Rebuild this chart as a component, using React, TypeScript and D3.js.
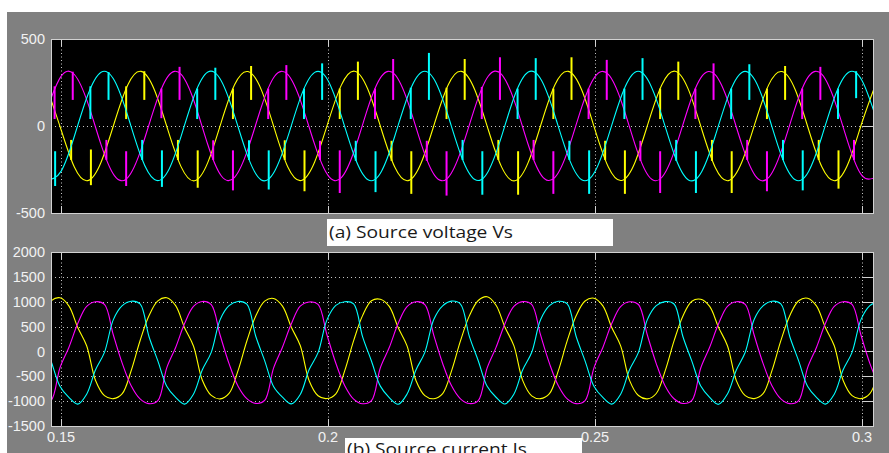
import * as d3 from "d3";

type Spike = [number, number, number];

// axis ticks
const timeTicks = [0.15, 0.2, 0.25, 0.3];
const timeTickLabels = ["0.15", "0.2", "0.25", "0.3"];
const voltageTicks = [-500, 0, 500];
const currentTicks = [-1500, -1000, -500, 0, 500, 1000, 1500, 2000];

// source voltage Vs, one sample every 2.5 ms from t = 0.1475 s
const voltageT0 = 0.1475;
const voltageDt = 0.0025;
const vsYellow = [
  208, -20, -236, -314, -208, 20, 236, 314,
  207, -21, -235, -315, -209, 21, 237, 313,
  209, -19, -237, -313, -207, 19, 235, 315,
  208, -20, -236, -314, -208, 20, 236, 314,
  207, -20, -235, -315, -209, 20, 237, 314,
  208, -21, -236, -313, -208, 21, 236, 315,
  209, -20, -237, -314, -207, 19, 235, 313,
  208, -20, -236, -314, -208, 20, 236,
];
const vsMagenta = [
  107, 285, 296, 134, -107, -285, -296, -134,
  106, 284, 297, 135, -108, -286, -295, -133,
  108, 286, 295, 133, -106, -284, -297, -135,
  107, 285, 296, 134, -107, -285, -296, -134,
  106, 286, 297, 134, -108, -285, -295, -134,
  107, 284, 296, 135, -107, -286, -296, -133,
  108, 285, 295, 134, -106, -285, -297, -134,
  107, 285, 296, 134, -107, -285, -296,
];
const vsCyan = [
  -309, -261, -59, 177, 309, 261, 59, -177,
  -308, -262, -58, 178, 310, 260, 60, -176,
  -310, -260, -60, 176, 308, 262, 58, -178,
  -309, -261, -59, 177, 309, 261, 59, -177,
  -308, -261, -60, 178, 310, 261, 59, -176,
  -309, -262, -58, 177, 309, 260, 60, -177,
  -310, -261, -59, 176, 308, 261, 59, -178,
  -309, -261, -59, 177, 309, 261, 59,
];

// commutation notches on the voltage: [time, low, high]
const notchYellow: Spike[] = [
  [0.1519, -195, -80], [0.1556, -340, -135], [0.1622, 40, 228],
  [0.1656, 150, 315], [0.1719, -195, -80], [0.1756, -355, -140], [0.1822, 40, 215],
  [0.1856, 150, 345], [0.1919, -195, -82], [0.1956, -375, -140], [0.2022, 40, 215],
  [0.2056, 150, 370], [0.2119, -200, -85], [0.2156, -390, -145], [0.2222, 40, 220],
  [0.2256, 150, 385], [0.2319, -195, -80], [0.2356, -395, -145], [0.2422, 40, 215],
  [0.2456, 150, 395], [0.2519, -195, -85], [0.2556, -390, -140], [0.2622, 40, 215],
  [0.2656, 150, 370], [0.2719, -200, -80], [0.2756, -385, -145], [0.2822, 40, 215],
  [0.2856, 150, 345], [0.2919, -195, -80], [0.2956, -360, -140],
];
const notchMagenta: Spike[] = [
  [0.1488, 40, 228],
  [0.1522, 150, 312], [0.1585, -195, -80], [0.1622, -345, -145], [0.1688, 45, 215],
  [0.1722, 150, 340], [0.1785, -195, -82], [0.1822, -370, -140], [0.1888, 40, 215],
  [0.1922, 150, 350], [0.1985, -195, -85], [0.2022, -385, -140], [0.2088, 40, 215],
  [0.2122, 150, 385], [0.2185, -200, -85], [0.2222, -400, -145], [0.2288, 40, 225],
  [0.2322, 150, 395], [0.2385, -195, -80], [0.2422, -390, -145], [0.2488, 40, 215],
  [0.2522, 150, 380], [0.2585, -200, -85], [0.2622, -385, -145], [0.2688, 40, 215],
  [0.2722, 150, 360], [0.2785, -195, -80], [0.2822, -375, -145], [0.2888, 40, 215],
  [0.2922, 150, 340], [0.2985, -195, -80],
];
const notchCyan: Spike[] = [
  [0.1489, -345, -145], [0.1555, 40, 228],
  [0.1589, 150, 310], [0.1652, -195, -80], [0.1689, -350, -140], [0.1755, 40, 215],
  [0.1789, 150, 335], [0.1852, -195, -82], [0.1889, -365, -140], [0.1955, 40, 215],
  [0.1989, 150, 360], [0.2052, -200, -85], [0.2089, -380, -145], [0.2155, 40, 220],
  [0.2189, 150, 420], [0.2252, -195, -80], [0.2289, -395, -145], [0.2355, 40, 215],
  [0.2389, 150, 390], [0.2452, -195, -85], [0.2489, -390, -140], [0.2555, 40, 215],
  [0.2589, 150, 390], [0.2652, -200, -80], [0.2689, -385, -145], [0.2755, 40, 215],
  [0.2789, 150, 355], [0.2852, -195, -80], [0.2889, -370, -140], [0.2955, 40, 215],
  [0.2989, 160, 315],
];

// source current Is, one sample every 1/600 s from t = 0.14647 s
const currentT0 = 0.14647;
const currentDt = 1 / 600;
const isYellow = [
  717, 1018,
  1080, 917, 482, 114, -586, -890, -950, -850, -388, 215, 717, 1018,
  1080, 920, 478, 110, -580, -885, -955, -845, -392, 210, 712, 1012,
  1065, 910, 485, 118, -590, -892, -948, -852, -385, 218, 720, 1020,
  1050, 905, 480, 112, -584, -888, -952, -848, -390, 212, 715, 1025,
  1100, 930, 486, 116, -588, -893, -950, -850, -387, 216, 718, 1015,
  1070, 915, 480, 112, -582, -887, -954, -846, -391, 211, 714, 1010,
  1050, 905, 484, 115, -587, -890, -949, -851, -386, 217, 719, 1020,
  1070, 915, 482, 114, -586, -890, -950, -850, -388,
];
const isMagenta = [
  -1050, -990, -330, 80, 560, 905,
  1000, 945, 330, -240, -690, -955, -1050, -990, -330, 80, 560, 905,
  1005, 940, 325, -245, -695, -950, -1045, -985, -335, 85, 555, 910,
  995, 948, 335, -238, -688, -958, -1052, -992, -328, 78, 562, 900,
  1000, 942, 328, -242, -692, -953, -1048, -988, -332, 82, 558, 907,
  1002, 946, 332, -240, -690, -956, -1050, -990, -330, 80, 560, 903,
  998, 944, 330, -244, -694, -952, -1046, -986, -334, 84, 556, 908,
  1000, 945, 330, -240, -690, -955, -1050, -990, -330, 80, 560, 905,
  1000, 945, 330, -240, -690,
];
const isCyan = [
  300, -190, -700, -925, -1060, -860, -370, -20, 640, 920,
  1010, 955, 300, -190, -700, -925, -1060, -860, -370, -20, 640, 920,
  1005, 950, 305, -185, -705, -920, -1055, -865, -365, -25, 635, 925,
  1000, 958, 298, -192, -698, -928, -1062, -858, -372, -18, 642, 918,
  1012, 952, 302, -188, -702, -922, -1058, -862, -368, -22, 638, 922,
  1008, 956, 300, -190, -700, -926, -1060, -860, -370, -20, 640, 920,
  1002, 954, 296, -194, -696, -924, -1064, -856, -374, -16, 644, 916,
  1010, 955, 300, -190, -700, -925, -1060, -860, -370, -20, 640, 920,
  1010,
];

const W = 889;
const H = 453;
const L = 51;
const R = 874;
const FRAME = "#d2d2d2";
const GRID = "#c4c4c4";
const LABEL = "#f2f2f2";
const COLORS = { yellow: "#ffff00", magenta: "#ff00ff", cyan: "#00ffff" };

const x = d3.scaleLinear().domain([0.148127, 0.302247]).range([L, R]);

function samples(t0: number, dt: number, vals: number[]): [number, number][] {
  return vals.map((v, i) => [t0 + i * dt, v]);
}

function Panel({ id, y, ticks, top, bottom, showTime, children }: any) {
  const crisp = (v: number) => Math.round(v) + 0.5;
  return (
    <g>
      <defs>
        <clipPath id={id}>
          <rect x={L} y={top} width={R - L} height={bottom - top} />
        </clipPath>
      </defs>
      <rect x={L} y={top} width={R - L} height={bottom - top} fill="#000" />
      {ticks
        .filter((v: number) => y(v) > top + 1 && y(v) < bottom - 1)
        .map((v: number) => (
          <g key={"h" + v}>
            <line x1={L} x2={R} y1={crisp(y(v))} y2={crisp(y(v))} stroke={GRID} strokeDasharray="1 3" />
            <line x1={R - 12} x2={R} y1={crisp(y(v))} y2={crisp(y(v))} stroke={FRAME} />
          </g>
        ))}
      {timeTicks.map((t) => (
        <g key={"v" + t}>
          <line x1={crisp(x(t))} x2={crisp(x(t))} y1={top} y2={bottom} stroke={GRID} strokeDasharray="1 2.5" />
          <line x1={crisp(x(t))} x2={crisp(x(t))} y1={top} y2={top + 7} stroke={FRAME} />
          <line x1={crisp(x(t))} x2={crisp(x(t))} y1={bottom - 7} y2={bottom} stroke={FRAME} />
        </g>
      ))}
      <g clipPath={`url(#${id})`}>{children}</g>
      <rect x={L + 0.5} y={top + 0.5} width={R - L - 1} height={bottom - top} fill="none" stroke={FRAME} />
      {ticks.map((v: number) => (
        <text
          key={"l" + v}
          x={45}
          y={y(v)}
          dy="0.35em"
          textAnchor="end"
          fontFamily="'Liberation Sans', Arial, sans-serif"
          fontSize={14.5}
          fill={LABEL}
        >
          {v}
        </text>
      ))}
      {showTime &&
        timeTicks.map((t, i) => (
          <text
            key={"t" + t}
            x={x(t)}
            y={bottom + 16}
            textAnchor="middle"
            fontFamily="'Liberation Sans', Arial, sans-serif"
            fontSize={14.5}
            fill={LABEL}
          >
            {timeTickLabels[i]}
          </text>
        ))}
    </g>
  );
}

export default function App() {
  const yV = d3.scaleLinear().domain([-500, 500]).range([213, 39]);
  const yI = d3.scaleLinear().domain([-1500, 2000]).range([426, 252]);

  const lineV = d3
    .line<[number, number]>()
    .x((d) => x(d[0]))
    .y((d) => yV(d[1]))
    .curve(d3.curveNatural);
  const lineI = d3
    .line<[number, number]>()
    .x((d) => x(d[0]))
    .y((d) => yI(d[1]))
    .curve(d3.curveCatmullRom.alpha(0.5));

  const voltage = [
    { c: COLORS.yellow, v: vsYellow, n: notchYellow },
    { c: COLORS.magenta, v: vsMagenta, n: notchMagenta },
    { c: COLORS.cyan, v: vsCyan, n: notchCyan },
  ];
  const current = [
    { c: COLORS.yellow, v: isYellow },
    { c: COLORS.magenta, v: isMagenta },
    { c: COLORS.cyan, v: isCyan },
  ];

  return (
    <svg width={W} height={H} style={{ position: "absolute", left: 0, top: 0 }}>
      <rect x={0} y={0} width={W} height={H} fill="#fff" />
      <rect x={7} y={12} width={W - 7} height={H - 12} fill="#808080" />

      <Panel id="clipV" y={yV} ticks={voltageTicks} top={39} bottom={213} showTime={false}>
        {voltage.map((s, k) => (
          <g key={k}>
            <path d={lineV(samples(voltageT0, voltageDt, s.v)) || ""} fill="none" stroke={s.c} strokeWidth={1.1} />
            {s.n.map((d, i) => (
              <line key={i} x1={x(d[0])} x2={x(d[0])} y1={yV(d[1])} y2={yV(d[2])} stroke={s.c} strokeWidth={2} />
            ))}
          </g>
        ))}
      </Panel>

      <Panel id="clipI" y={yI} ticks={currentTicks} top={252} bottom={426} showTime={true}>
        {current.map((s, k) => (
          <path key={k} d={lineI(samples(currentT0, currentDt, s.v)) || ""} fill="none" stroke={s.c} strokeWidth={1.1} />
        ))}
      </Panel>

      <rect x={327} y={219} width={286} height={27} fill="#fff" />
      <text x={329} y={238} fontFamily="'Open Sans', 'Noto Sans', sans-serif" fontSize={15.5} fill="#1a1a1a" textLength={184} lengthAdjust="spacingAndGlyphs">
        (a) Source voltage Vs
      </text>
      <rect x={345} y={438} width={237} height={20} fill="#fff" />
      <text x={347} y={455} fontFamily="'Open Sans', 'Noto Sans', sans-serif" fontSize={15.5} fill="#1a1a1a" textLength={180} lengthAdjust="spacingAndGlyphs">
        (b) Source current Is
      </text>
    </svg>
  );
}
